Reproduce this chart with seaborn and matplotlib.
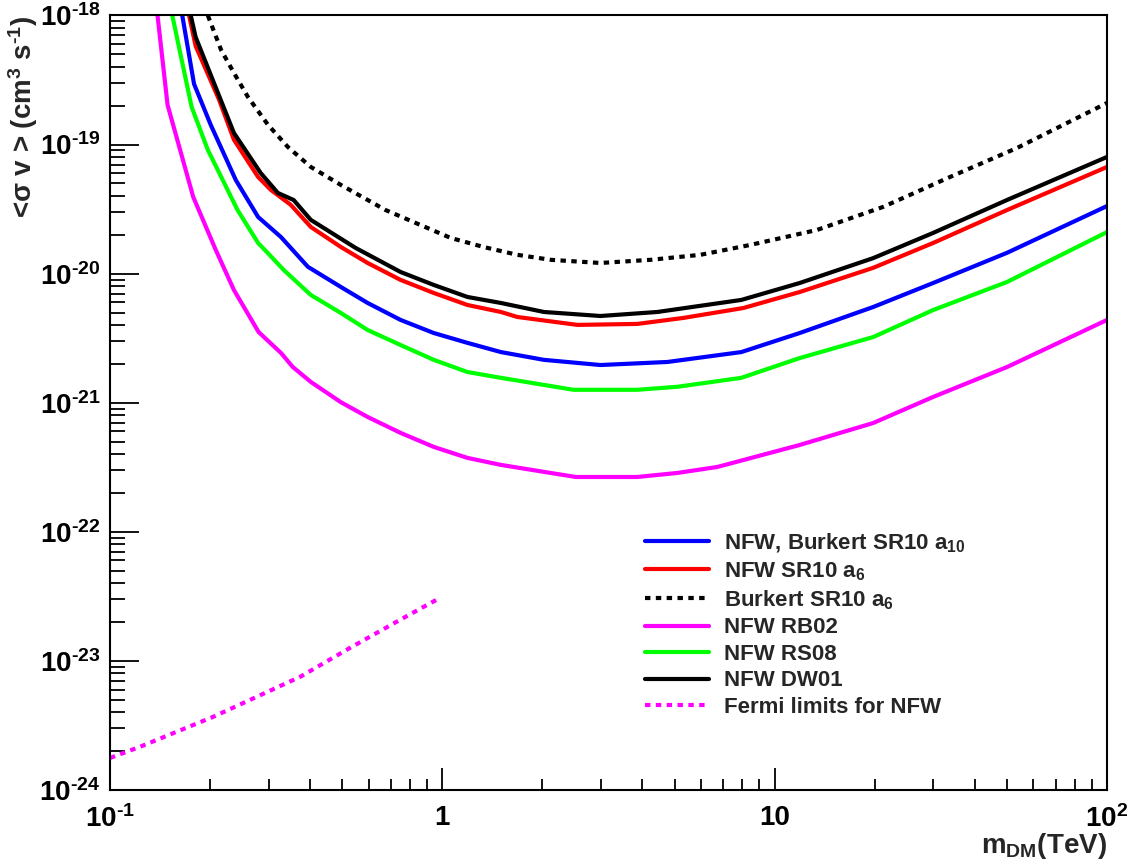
import matplotlib
matplotlib.use('Agg')
import numpy as np
import matplotlib.pyplot as plt
from matplotlib.ticker import LogLocator, NullFormatter
import seaborn as sns

# Values: DM mass in TeV, <sigma v> in cm^3 s^-1
m_a10 = [0.165, 0.179, 0.201, 0.239, 0.279, 0.327, 0.394, 0.495, 0.596, 0.749, 0.942,
         1.19, 1.50, 2.02, 2.99, 4.76, 7.94, 11.9, 19.8, 30.0, 50.0, 100.0]
sv_a10 = [1.0e-18, 2.95e-19, 1.42e-19, 5.32e-20, 2.75e-20, 1.92e-20, 1.13e-20, 7.89e-21,
          5.93e-21, 4.38e-21, 3.47e-21, 2.91e-21, 2.47e-21, 2.15e-21, 1.96e-21, 2.07e-21,
          2.47e-21, 3.47e-21, 5.52e-21, 8.47e-21, 1.45e-20, 3.34e-20]

m_nfw_a6 = [0.173, 0.181, 0.213, 0.236, 0.279, 0.305, 0.350, 0.402, 0.495, 0.596, 0.749,
            0.942, 1.19, 1.50, 1.68, 2.55, 3.86, 5.31, 8.05, 11.9, 19.8, 30.0, 50.0, 100.0]
sv_nfw_a6 = [1.0e-18, 5.80e-19, 2.22e-19, 1.09e-19, 5.61e-20, 4.45e-20, 3.41e-20, 2.30e-20,
             1.61e-20, 1.21e-20, 8.94e-21, 7.09e-21, 5.72e-21, 5.05e-21, 4.62e-21, 4.01e-21,
             4.08e-21, 4.54e-21, 5.42e-21, 7.21e-21, 1.11e-20, 1.73e-20, 3.11e-20, 6.71e-20]

m_burk_a6 = [0.197, 0.216, 0.236, 0.260, 0.299, 0.343, 0.402, 0.495, 0.675, 1.06, 1.33,
             1.68, 2.12, 2.99, 4.23, 5.98, 8.45, 13.4, 21.2, 33.7, 53.6, 100.0]
sv_burk_a6 = [1.0e-18, 5.40e-19, 3.59e-19, 2.34e-19, 1.42e-19, 9.58e-20, 6.71e-20, 4.87e-20,
              3.11e-20, 1.89e-20, 1.61e-20, 1.40e-20, 1.28e-20, 1.21e-20, 1.28e-20, 1.40e-20,
              1.67e-20, 2.18e-20, 3.29e-20, 5.61e-20, 9.41e-20, 2.10e-19]

m_rb02 = [0.139, 0.149, 0.178, 0.208, 0.236, 0.280, 0.327, 0.355, 0.402, 0.495, 0.596, 0.749,
          0.942, 1.19, 1.50, 2.52, 3.86, 5.10, 6.72, 11.9, 19.8, 30.0, 50.0, 100.0]
sv_rb02 = [1.0e-18, 2.03e-19, 3.93e-20, 1.53e-20, 7.47e-21, 3.53e-21, 2.43e-21, 1.89e-21,
           1.45e-21, 1.01e-21, 7.76e-22, 5.84e-22, 4.55e-22, 3.74e-22, 3.30e-22, 2.66e-22,
           2.66e-22, 2.86e-22, 3.18e-22, 4.71e-22, 6.97e-22, 1.11e-21, 1.89e-21, 4.38e-21]

m_rs08 = [0.154, 0.176, 0.197, 0.211, 0.242, 0.279, 0.298, 0.333, 0.402, 0.495, 0.596, 0.749,
          0.942, 1.19, 1.50, 2.48, 3.86, 5.10, 7.94, 11.9, 19.8, 30.0, 50.0, 100.0]
sv_rs08 = [1.0e-18, 1.96e-19, 9.08e-20, 6.36e-20, 3.11e-20, 1.73e-20, 1.45e-20, 1.07e-20,
           6.84e-21, 4.96e-21, 3.66e-21, 2.80e-21, 2.15e-21, 1.73e-21, 1.56e-21, 1.26e-21,
           1.26e-21, 1.33e-21, 1.56e-21, 2.22e-21, 3.23e-21, 5.23e-21, 8.62e-21, 2.10e-20]

m_dw01 = [0.175, 0.181, 0.236, 0.284, 0.320, 0.357, 0.402, 0.549, 0.749, 0.942, 1.19, 1.50,
          2.02, 2.99, 4.44, 7.94, 11.9, 19.8, 30.0, 50.0, 100.0]
sv_dw01 = [1.0e-18, 6.81e-19, 1.23e-19, 6.03e-20, 4.22e-20, 3.72e-20, 2.61e-20, 1.58e-20,
           1.03e-20, 8.18e-21, 6.60e-21, 5.93e-21, 5.05e-21, 4.70e-21, 5.05e-21, 6.26e-21,
           8.47e-21, 1.32e-20, 2.07e-20, 3.72e-20, 8.02e-20]

m_fermi = [0.100, 0.123, 0.204, 0.373, 0.527, 0.746, 0.984]
sv_fermi = [1.77e-24, 2.16e-24, 3.68e-24, 7.52e-24, 1.26e-23, 2.08e-23, 3.08e-23]

labels = ['NFW, Burkert SR10 a$_{10}$', 'NFW SR10 a$_{6}$', 'Burkert SR10 a$_{6}$',
          'NFW RB02', 'NFW RS08', 'NFW DW01', 'Fermi limits for NFW']

x_ticks = [0.1, 1, 10, 100]
x_ticklabels = [r'$10^{\text{-}1}$', '1', '10', '$10^{2}$']
y_ticks = [1e-24, 1e-23, 1e-22, 1e-21, 1e-20, 1e-19, 1e-18]
y_ticklabels = [r'$10^{\text{-}24}$', r'$10^{\text{-}23}$', r'$10^{\text{-}22}$',
                r'$10^{\text{-}21}$', r'$10^{\text{-}20}$', r'$10^{\text{-}19}$',
                r'$10^{\text{-}18}$']

# ROOT-like look: bold Helvetica-ish text, white canvas
sns.set_style('ticks')
plt.rcParams['font.family'] = ['Liberation Sans', 'DejaVu Sans']
plt.rcParams['font.weight'] = 'bold'
plt.rcParams['axes.labelweight'] = 'bold'
plt.rcParams['mathtext.fontset'] = 'custom'
plt.rcParams['mathtext.rm'] = 'Liberation Sans:bold'
plt.rcParams['mathtext.it'] = 'Liberation Sans:bold'
plt.rcParams['mathtext.bf'] = 'Liberation Sans:bold'
plt.rcParams['mathtext.sf'] = 'Liberation Sans:bold'
plt.rcParams['mathtext.default'] = 'rm'

fig = plt.figure(figsize=(11.31, 8.63), dpi=100)
ax = fig.add_axes([110 / 1131, 1 - 790 / 863, 997 / 1131, 774.5 / 863])
ax.set_xscale('log')
ax.set_yscale('log')

dotted = (0, (1.3, 1.3))
series = [
    (m_a10, sv_a10, '#0000ff', '-'),
    (m_nfw_a6, sv_nfw_a6, '#ff0000', '-'),
    (m_burk_a6, sv_burk_a6, '#000000', dotted),
    (m_rb02, sv_rb02, '#ff00ff', '-'),
    (m_rs08, sv_rs08, '#00ff00', '-'),
    (m_dw01, sv_dw01, '#000000', '-'),
    (m_fermi, sv_fermi, '#ff00ff', dotted),
]
for (xs, ys, col, ls), lab in zip(series, labels):
    sns.lineplot(x=xs, y=ys, ax=ax, color=col, linewidth=3.0, linestyle=ls,
                 label=lab, estimator=None, sort=False)

ax.set_xlim(0.1, 100)
ax.set_ylim(1e-24, 1e-18)

ax.set_xticks(x_ticks, labels=x_ticklabels)
ax.set_yticks(y_ticks, labels=y_ticklabels)
ax.xaxis.set_minor_locator(LogLocator(base=10, subs=np.arange(2, 10), numticks=20))
ax.yaxis.set_minor_locator(LogLocator(base=10, subs=np.arange(2, 10), numticks=20))
ax.xaxis.set_minor_formatter(NullFormatter())
ax.yaxis.set_minor_formatter(NullFormatter())

ax.tick_params(which='both', direction='in', bottom=True, left=True, top=False, right=False,
               colors='black', width=1.3, labelsize=20)
ax.tick_params(axis='y', which='major', length=21, pad=7)
ax.tick_params(axis='y', which='minor', length=11)
ax.tick_params(axis='x', which='major', length=16, pad=11)
ax.tick_params(axis='x', which='minor', length=8)

for sp in ax.spines.values():
    sp.set_color('black')
    sp.set_linewidth(1.5)

ax.set_xlabel('m$_{DM}$(TeV)', fontsize=20, fontweight='bold', loc='right')
ax.xaxis.set_label_coords(1.0, -0.053)
ax.set_ylabel(r'<σ v > (cm$^{3}$ s$^{\text{-}1}$)', fontsize=20, fontweight='bold', loc='top')
ax.yaxis.set_label_coords(-0.07, 1.0)

ax.legend(loc='upper left', bbox_to_anchor=(0.5366, 0.334), frameon=False, fontsize=16,
          handlelength=2.9, handletextpad=0.65, labelspacing=0.25, borderpad=0,
          borderaxespad=0)

fig.savefig('out.png', dpi=100)
plt.close(fig)
